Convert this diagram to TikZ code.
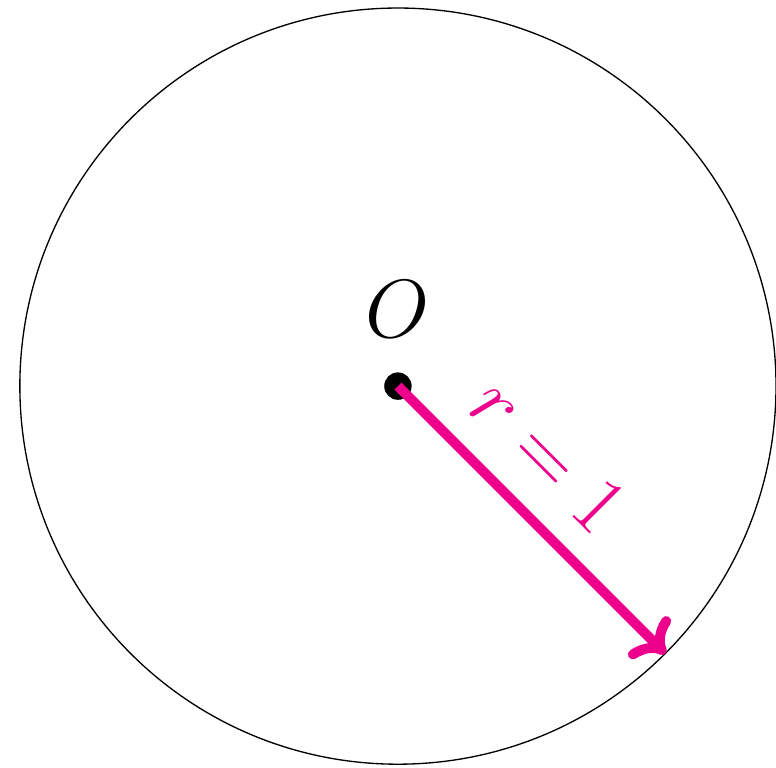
\documentclass[tikz,border=0pt]{standalone}
\usepackage{amsmath,amssymb}
\usepackage{xcolor}
\usepackage{tikz}
\usetikzlibrary{positioning,arrows.meta,calc}
\definecolor{radiuscolor}{RGB}{236,0,140}
\tikzset{
  center dot/.style={
    circle,
    fill=black,
    minimum size=0.29cm,
    inner sep=0pt
  },
  radius arrow/.style={
    ->,
    draw=radiuscolor,
    line width=3pt,
    font=\Huge
  }
}
\begin{document}
\begin{tikzpicture}

  \useasboundingbox (-4.21,-4.03) rectangle (4.0,4.085);

  % Unit circle
  \node[center dot] (O) at (0,0) {};
  \draw (O.center) circle (4cm);
  \coordinate (P) at (-45:4);

  % Centre label
  \node[above=0.24cm of O, font=\Huge] (Olabel) {$O$};

  % Radius
  \draw[radius arrow] (O.center) -- node[pos=0.41, sloped, above=0.16cm, text=radiuscolor] (rlabel) {$r=1$} (P);

\end{tikzpicture}
\end{document}
